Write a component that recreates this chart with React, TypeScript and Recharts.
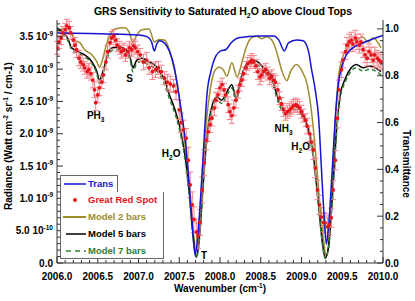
import React from 'react';
import { ComposedChart, Line, Scatter, ErrorBar, XAxis, YAxis, ReferenceDot } from 'recharts';

// transmittance (right axis) : [wavenumber, T]
const transmittance: [number, number][] = [
  [2006.0, 0.983], [2006.4, 0.98], [2006.8, 0.977], [2007.01, 0.974], [2007.11, 0.966],
  [2007.16, 0.945], [2007.195, 0.906], [2007.22, 0.932], [2007.256, 0.949], [2007.317, 0.94],
  [2007.378, 0.906], [2007.44, 0.834], [2007.476, 0.762], [2007.524, 0.651], [2007.573, 0.528],
  [2007.622, 0.336], [2007.659, 0.166], [2007.695, 0.034], [2007.73, 0.123], [2007.768, 0.315],
  [2007.805, 0.528], [2007.84, 0.719], [2007.89, 0.821], [2007.95, 0.885], [2008.01, 0.906],
  [2008.07, 0.911], [2008.135, 0.94], [2008.23, 0.962], [2008.475, 0.97], [2008.66, 0.97],
  [2008.72, 0.953], [2008.79, 0.906], [2008.84, 0.94], [2008.94, 0.953], [2009.02, 0.949],
  [2009.085, 0.906], [2009.12, 0.834], [2009.17, 0.736], [2009.21, 0.621], [2009.245, 0.4],
  [2009.28, 0.187], [2009.305, 0.081], [2009.33, 0.145], [2009.37, 0.357], [2009.415, 0.621],
  [2009.45, 0.762], [2009.49, 0.834], [2009.55, 0.889], [2009.63, 0.919], [2009.755, 0.94],
  [2009.915, 0.962], [2010.0, 0.972],
];

// radiance in units of 1e-9 W cm-2 sr-1 / cm-1
const model2: [number, number][] = [
  [2006.0, 3.59], [2006.06, 3.62], [2006.13, 3.63], [2006.18, 3.55], [2006.22, 3.45],
  [2006.28, 3.41], [2006.34, 3.3], [2006.43, 3.22], [2006.49, 3.11], [2006.52, 3.03],
  [2006.56, 3.15], [2006.6, 3.35], [2006.65, 3.53], [2006.71, 3.62], [2006.83, 3.64],
  [2006.89, 3.56], [2006.93, 3.41], [2006.98, 3.53], [2007.04, 3.61], [2007.13, 3.62],
  [2007.195, 3.42], [2007.256, 3.46], [2007.317, 3.45], [2007.378, 3.3], [2007.415, 3.13],
  [2007.476, 2.76], [2007.524, 2.35], [2007.573, 1.83], [2007.622, 1.21], [2007.67, 0.51],
  [2007.71, 0.12], [2007.755, 0.59], [2007.79, 1.44], [2007.83, 2.14], [2007.88, 2.68],
  [2007.93, 2.96], [2007.99, 3.03], [2008.04, 2.99], [2008.085, 2.89], [2008.145, 3.1],
  [2008.21, 2.88], [2008.27, 3.11], [2008.32, 3.33], [2008.38, 3.48], [2008.45, 3.51],
  [2008.51, 3.47], [2008.575, 3.5], [2008.635, 3.45], [2008.695, 3.27], [2008.755, 2.99],
  [2008.82, 2.82], [2008.865, 2.96], [2008.94, 3.07], [2009.01, 2.96], [2009.07, 2.76],
  [2009.12, 2.37], [2009.17, 1.75], [2009.22, 0.975], [2009.27, 0.36], [2009.305, 0.09],
  [2009.34, 0.43], [2009.38, 1.28], [2009.415, 2.21], [2009.45, 2.83], [2009.5, 3.17],
  [2009.55, 3.3], [2009.61, 3.42], [2009.67, 3.45], [2009.745, 3.5], [2009.82, 3.42],
  [2009.88, 3.48], [2009.975, 3.33],
];

const modelWn = [
  2006.0, 2006.06, 2006.13, 2006.18, 2006.26, 2006.34, 2006.43, 2006.49, 2006.52, 2006.57,
  2006.62, 2006.68, 2006.77, 2006.85, 2006.9, 2006.93, 2006.98, 2007.04, 2007.13, 2007.195,
  2007.26, 2007.32, 2007.38, 2007.44, 2007.5, 2007.56, 2007.62, 2007.67, 2007.71, 2007.745,
  2007.78, 2007.83, 2007.89, 2007.96, 2008.02, 2008.085, 2008.145, 2008.2, 2008.245, 2008.29,
  2008.35, 2008.415, 2008.475, 2008.535, 2008.6, 2008.66, 2008.72, 2008.78, 2008.84, 2008.9,
  2008.96, 2009.02, 2009.085, 2009.145, 2009.21, 2009.26, 2009.29, 2009.33, 2009.38, 2009.43,
  2009.475, 2009.54, 2009.61, 2009.67, 2009.755, 2009.84, 2009.91, 2009.975,
];

const model5 = [
  3.64, 3.58, 3.48, 3.33, 3.27, 3.22, 3.11, 2.96, 2.83, 2.99,
  3.22, 3.33, 3.34, 3.3, 3.17, 3.02, 3.14, 3.17, 3.11, 3.07,
  2.96, 2.83, 2.6, 2.4, 2.14, 1.75, 1.13, 0.43, 0.09, 0.36,
  0.975, 1.83, 2.37, 2.57, 2.52, 2.65, 2.76, 2.55, 2.8, 2.99,
  3.11, 3.14, 3.1, 3.02, 2.96, 2.76, 2.52, 2.37, 2.34, 2.43,
  2.4, 2.29, 2.06, 1.67, 0.9, 0.28, 0.08, 0.23, 1.05, 2.06,
  2.6, 2.86, 3.02, 3.07, 3.02, 3.05, 3.02, 2.96,
];

const model7 = [
  3.62, 3.55, 3.45, 3.3, 3.24, 3.19, 3.08, 2.92, 2.78, 2.95,
  3.18, 3.29, 3.3, 3.26, 3.12, 2.96, 3.09, 3.12, 3.06, 3.02,
  2.91, 2.77, 2.54, 2.34, 2.08, 1.69, 1.08, 0.4, 0.08, 0.33,
  0.93, 1.77, 2.31, 2.52, 2.47, 2.6, 2.71, 2.5, 2.75, 2.94,
  3.06, 3.09, 3.05, 2.97, 2.91, 2.71, 2.47, 2.32, 2.29, 2.38,
  2.35, 2.24, 2.01, 1.62, 0.86, 0.26, 0.07, 0.21, 1.0, 2.0,
  2.55, 2.81, 2.97, 3.02, 2.97, 3.0, 2.97, 2.91,
];

// Great Red Spot spectrum: [wavenumber, radiance, error]
const grs: [number, number, number][] = [
  [2006.0, 3.33, 0.1], [2006.025, 3.42, 0.1], [2006.05, 3.48, 0.1], [2006.07, 3.56, 0.1], [2006.1, 3.61, 0.1],
  [2006.12, 3.67, 0.1], [2006.15, 3.64, 0.1], [2006.17, 3.56, 0.1], [2006.2, 3.45, 0.1], [2006.22, 3.37, 0.12],
  [2006.24, 3.3, 0.12], [2006.27, 3.17, 0.12], [2006.29, 3.11, 0.1], [2006.32, 3.07, 0.1], [2006.34, 3.02, 0.1],
  [2006.37, 2.96, 0.1], [2006.39, 2.99, 0.1], [2006.415, 2.93, 0.1], [2006.44, 2.83, 0.12], [2006.46, 2.68, 0.12],
  [2006.475, 2.48, 0.12], [2006.5, 2.6, 0.12], [2006.52, 2.71, 0.12], [2006.55, 2.8, 0.1], [2006.57, 2.91, 0.12],
  [2006.6, 3.11, 0.12], [2006.62, 3.27, 0.1], [2006.65, 3.41, 0.1], [2006.67, 3.48, 0.1], [2006.695, 3.51, 0.1],
  [2006.72, 3.45, 0.1], [2006.74, 3.37, 0.1], [2006.77, 3.33, 0.1], [2006.79, 3.27, 0.1], [2006.82, 3.3, 0.1],
  [2006.84, 3.22, 0.1], [2006.87, 3.27, 0.1], [2006.89, 3.33, 0.1], [2006.915, 3.3, 0.1], [2006.94, 3.36, 0.1],
  [2006.96, 3.33, 0.1], [2006.99, 3.27, 0.1], [2007.02, 3.22, 0.1], [2007.06, 3.11, 0.12], [2007.1, 3.14, 0.12],
  [2007.13, 3.02, 0.1], [2007.17, 2.96, 0.12], [2007.21, 2.99, 0.12], [2007.245, 3.02, 0.1], [2007.28, 2.96, 0.1],
  [2007.32, 2.86, 0.1], [2007.355, 2.8, 0.12], [2007.39, 2.77, 0.12], [2007.43, 2.74, 0.1], [2007.46, 2.65, 0.12],
  [2007.5, 2.37, 0.15], [2007.52, 2.17, 0.15], [2007.55, 2.06, 0.15], [2007.585, 1.93, 0.15], [2007.61, 1.59, 0.2],
  [2007.635, 1.21, 0.2], [2007.66, 0.9, 0.2], [2007.68, 0.67, 0.2], [2007.71, 0.48, 0.2], [2007.73, 0.42, 0.2],
  [2007.755, 0.63, 0.2], [2007.78, 1.13, 0.2], [2007.805, 1.55, 0.2], [2007.83, 1.9, 0.15], [2007.855, 2.03, 0.15],
  [2007.88, 2.14, 0.12], [2007.9, 2.24, 0.12], [2007.93, 2.4, 0.12], [2007.95, 2.52, 0.12], [2007.975, 2.6, 0.1],
  [2008.0, 2.71, 0.1], [2008.025, 2.76, 0.1], [2008.05, 2.68, 0.1], [2008.07, 2.6, 0.1], [2008.1, 2.45, 0.12],
  [2008.12, 2.34, 0.12], [2008.145, 2.28, 0.12], [2008.17, 2.4, 0.12], [2008.195, 2.52, 0.12], [2008.22, 2.65, 0.1],
  [2008.245, 2.76, 0.1], [2008.27, 2.83, 0.1], [2008.29, 2.93, 0.1], [2008.32, 3.02, 0.1], [2008.34, 3.08, 0.1],
  [2008.37, 3.11, 0.1], [2008.39, 3.14, 0.1], [2008.415, 3.11, 0.1], [2008.44, 3.05, 0.1], [2008.465, 2.96, 0.12],
  [2008.49, 2.88, 0.12], [2008.51, 2.91, 0.1], [2008.535, 2.96, 0.1], [2008.56, 2.99, 0.1], [2008.585, 2.93, 0.1],
  [2008.61, 2.86, 0.1], [2008.635, 2.89, 0.1], [2008.66, 2.83, 0.1], [2008.68, 2.8, 0.1], [2008.71, 2.68, 0.1],
  [2008.73, 2.55, 0.1], [2008.755, 2.46, 0.1], [2008.78, 2.37, 0.1], [2008.805, 2.31, 0.1], [2008.83, 2.34, 0.1],
  [2008.855, 2.37, 0.1], [2008.88, 2.4, 0.1], [2008.9, 2.43, 0.1], [2008.93, 2.45, 0.1], [2008.95, 2.43, 0.1],
  [2008.975, 2.4, 0.1], [2009.0, 2.34, 0.1], [2009.02, 2.28, 0.1], [2009.05, 2.21, 0.1], [2009.07, 2.12, 0.12],
  [2009.1, 2.0, 0.12], [2009.12, 1.87, 0.12], [2009.145, 1.75, 0.15], [2009.17, 1.47, 0.15], [2009.195, 1.13, 0.15],
  [2009.22, 0.9, 0.15], [2009.245, 0.71, 0.15], [2009.27, 0.63, 0.15], [2009.29, 0.62, 0.15], [2009.32, 0.56, 0.15],
  [2009.34, 0.59, 0.15], [2009.365, 0.7, 0.15], [2009.39, 1.13, 0.15], [2009.415, 1.59, 0.15], [2009.44, 2.24, 0.15],
  [2009.46, 2.68, 0.15], [2009.49, 2.99, 0.12], [2009.51, 3.14, 0.12], [2009.54, 3.27, 0.12], [2009.56, 3.37, 0.12],
  [2009.585, 3.42, 0.12], [2009.61, 3.45, 0.12], [2009.63, 3.39, 0.12], [2009.66, 3.48, 0.12], [2009.68, 3.42, 0.12],
  [2009.71, 3.37, 0.12], [2009.73, 3.42, 0.12], [2009.755, 3.3, 0.12], [2009.78, 3.22, 0.12], [2009.805, 3.17, 0.12],
  [2009.83, 3.27, 0.12], [2009.855, 3.22, 0.12], [2009.88, 3.14, 0.12], [2009.9, 3.22, 0.12], [2009.93, 3.17, 0.12],
  [2009.95, 3.14, 0.12], [2009.975, 3.11, 0.12],
];

// line annotations: [wavenumber, radiance, main, subscript, tail]
const annotations: [number, number, string, string, string][] = [
  [2006.475, 2.29, 'PH', '3', ''],
  [2006.89, 2.85, 'S', '', ''],
  [2007.4, 1.69, 'H', '2', 'O'],
  [2007.805, 0.11, 'T', '', ''],
  [2008.78, 2.09, 'NH', '3', ''],
  [2008.99, 1.8, 'H', '2', 'O'],
];

const xMajorLabels = ['2006.0', '2006.5', '2007.0', '2007.5', '2008.0', '2008.5', '2009.0', '2009.5', '2010.0'];
const radMajorLabels: [string, string][] = [
  ['0.0', ''], ['5.0 10', '-10'], ['1.0 10', '-9'], ['1.5 10', '-9'], ['2.0 10', '-9'],
  ['2.5 10', '-9'], ['3.0 10', '-9'], ['3.5 10', '-9'],
];
const transMajorLabels = ['0.0', '0.2', '0.4', '0.6', '0.8', '1.0'];

const xTicks = Array.from({ length: 41 }, (_, i) => +(2006 + i * 0.1).toFixed(1));
const radTicks = Array.from({ length: 38 }, (_, i) => +(i * 0.1).toFixed(1));
const transTicks = Array.from({ length: 21 }, (_, i) => +(i * 0.05).toFixed(2));

const FONT = '"Liberation Sans", Arial, Helvetica, sans-serif';
const FRAME = '#333';
const BLUE = '#1414d2';
const OLIVE = '#9e8c2e';
const GREEN = '#2f7d32';
const RED = '#e8141c';

const near = (v: number, step: number) => Math.abs(v / step - Math.round(v / step)) < 1e-6;

const transPts = transmittance.map(([x, y]) => ({ x, y }));
const model2Pts = model2.map(([x, y]) => ({ x, y }));
const model5Pts = modelWn.map((x, i) => ({ x, y: model5[i] }));
const model7Pts = modelWn.map((x, i) => ({ x, y: model7[i] }));
const grsPts = grs.map(([x, y, err]) => ({ x, y, err }));

const BottomTick = (props: any) => {
  const { x, y, payload } = props;
  const major = near(payload.value - 2006, 0.5);
  const idx = Math.round((payload.value - 2006) / 0.5);
  return (
    <g>
      <line x1={x} x2={x} y1={y} y2={y - (major ? 6 : 3)} stroke={FRAME} />
      {major && (
        <text x={x} y={y + 16.5} textAnchor="middle" fontSize={10} fontWeight="bold" fontFamily={FONT} fill="#000">
          {xMajorLabels[idx]}
        </text>
      )}
    </g>
  );
};

const TopTick = (props: any) => {
  const { x, y, payload } = props;
  const major = near(payload.value - 2006, 0.5);
  return <line x1={x} x2={x} y1={y} y2={y + (major ? 6 : 3)} stroke={FRAME} />;
};

const LeftTick = (props: any) => {
  const { x, y, payload } = props;
  const major = near(payload.value, 0.5);
  const lab = radMajorLabels[Math.round(payload.value / 0.5)];
  return (
    <g>
      <line x1={x} x2={x + (major ? 6 : 3)} y1={y} y2={y} stroke={FRAME} />
      {major && lab && (
        <text x={x - 4} y={y} dy="0.36em" textAnchor="end" fontSize={10} fontWeight="bold" fontFamily={FONT} fill="#000">
          {lab[0]}
          {lab[1] && (
            <tspan fontSize={6.5} dy={-4.5}>
              {lab[1]}
            </tspan>
          )}
        </text>
      )}
    </g>
  );
};

const RightTick = (props: any) => {
  const { x, y, payload } = props;
  const major = near(payload.value, 0.2);
  return (
    <g>
      <line x1={x} x2={x - (major ? 6 : 3)} y1={y} y2={y} stroke={FRAME} />
      {major && (
        <text x={x + 2} y={y} dy="0.36em" textAnchor="start" fontSize={10} fontWeight="bold" fontFamily={FONT} fill="#000">
          {transMajorLabels[Math.round(payload.value / 0.2)]}
        </text>
      )}
    </g>
  );
};

const AnnotLabel = (props: any) => {
  const { viewBox, main, sub, tail } = props;
  const cx = viewBox.x + (viewBox.width || 0) / 2;
  const cy = viewBox.y + (viewBox.height || 0) / 2;
  return (
    <text x={cx} y={cy} dy="0.36em" textAnchor="middle" fontSize={10} fontWeight="bold" fontFamily={FONT} fill="#000">
      {main}
      {sub && (
        <tspan fontSize={6.5} dy={3}>
          {sub}
        </tspan>
      )}
      {tail && <tspan dy={-3}>{tail}</tspan>}
    </text>
  );
};

const GrsDot = (props: any) => <circle cx={props.cx} cy={props.cy} r={1.9} fill={RED} />;

const legendRow = (y: number, sample: React.ReactNode, text: string, color: string) => (
  <div style={{ position: 'absolute', left: 0, top: y, height: 14, display: 'flex', alignItems: 'center' }}>
    <svg width={27} height={14} style={{ display: 'block' }}>
      {sample}
    </svg>
    <span style={{ color, fontSize: 9.5, fontWeight: 'bold', lineHeight: '14px', whiteSpace: 'nowrap' }}>{text}</span>
  </div>
);

export default function App() {
  return (
    <div style={{ position: 'absolute', left: 0, top: 0, width: 415, height: 301, background: '#fff', fontFamily: FONT }}>
      <ComposedChart width={415} height={301} margin={{ top: 20, right: 0, bottom: 0, left: 0 }}>
        <XAxis
          xAxisId="x"
          type="number"
          dataKey="x"
          domain={[2006, 2010]}
          ticks={xTicks}
          interval={0}
          tickSize={0}
          tickMargin={0}
          tickLine={false}
          height={38}
          axisLine={{ stroke: FRAME }}
          tick={<BottomTick />}
          allowDataOverflow
        />
        <XAxis
          xAxisId="top"
          orientation="top"
          type="number"
          dataKey="x"
          domain={[2006, 2010]}
          ticks={xTicks}
          interval={0}
          tickSize={0}
          tickMargin={0}
          tickLine={false}
          height={0}
          axisLine={{ stroke: FRAME }}
          tick={<TopTick />}
          allowDataOverflow
        />
        <YAxis
          yAxisId="rad"
          type="number"
          dataKey="y"
          domain={[0, 3.76]}
          ticks={radTicks}
          interval={0}
          tickSize={0}
          tickMargin={0}
          tickLine={false}
          width={57}
          axisLine={{ stroke: FRAME }}
          tick={<LeftTick />}
          allowDataOverflow
        />
        <YAxis
          yAxisId="tr"
          orientation="right"
          type="number"
          dataKey="y"
          domain={[0, 1.038]}
          ticks={transTicks}
          interval={0}
          tickSize={0}
          tickMargin={0}
          tickLine={false}
          width={32}
          axisLine={{ stroke: FRAME }}
          tick={<RightTick />}
          allowDataOverflow
        />
        <Line xAxisId="x" yAxisId="rad" data={model2Pts} dataKey="y" type="monotone" stroke={OLIVE} strokeWidth={1.5} dot={false} isAnimationActive={false} />
        <Line xAxisId="x" yAxisId="rad" data={model5Pts} dataKey="y" type="monotone" stroke="#000" strokeWidth={1.5} dot={false} isAnimationActive={false} />
        <Line xAxisId="x" yAxisId="rad" data={model7Pts} dataKey="y" type="monotone" stroke={GREEN} strokeWidth={1.5} strokeDasharray="4 3" dot={false} isAnimationActive={false} />
        <Scatter xAxisId="x" yAxisId="rad" data={grsPts} dataKey="y" shape={<GrsDot />} isAnimationActive={false}>
          <ErrorBar dataKey="err" direction="y" width={3} stroke="#f2828a" strokeWidth={1} />
        </Scatter>
        <Line xAxisId="x" yAxisId="tr" data={transPts} dataKey="y" type="monotone" stroke={BLUE} strokeWidth={1.5} dot={false} isAnimationActive={false} />
        {annotations.map(([x, y, main, sub, tail], i) => (
          <ReferenceDot
            key={i}
            xAxisId="x"
            yAxisId="rad"
            x={x}
            y={y}
            r={0}
            stroke="none"
            fill="none"
            ifOverflow="visible"
            label={<AnnotLabel main={main} sub={sub} tail={tail} />}
          />
        ))}
      </ComposedChart>

      <svg width={415} height={301} style={{ position: 'absolute', left: 0, top: 0, pointerEvents: 'none' }}>
        <text x={223} y={15} textAnchor="middle" fontSize={10.5} fontWeight="bold" fontFamily={FONT} fill="#000">
          GRS Sensitivity to Saturated H<tspan fontSize={7} dy={3}>2</tspan>
          <tspan dy={-3}>O above Cloud Tops</tspan>
        </text>
        <text transform="translate(12,136) rotate(-90)" textAnchor="middle" fontSize={10} fontWeight="bold" fontFamily={FONT} fill="#000">
          Radiance (Watt cm<tspan fontSize={6.5} dy={-4}>-2</tspan>
          <tspan dy={4}> sr</tspan>
          <tspan fontSize={6.5} dy={-4}>-1</tspan>
          <tspan dy={4}> / cm-1)</tspan>
        </text>
        <text transform="translate(403,164) rotate(90)" textAnchor="middle" fontSize={10} fontWeight="bold" fontFamily={FONT} fill="#000">
          Transmittance
        </text>
        <text x={220} y={292} textAnchor="middle" fontSize={10} fontWeight="bold" fontFamily={FONT} fill="#000">
          Wavenumber (cm<tspan fontSize={6.5} dy={-4}>-1</tspan>
          <tspan dy={4}>)</tspan>
        </text>
      </svg>

      <div style={{ position: 'absolute', left: 60, top: 175, width: 56, height: 16, border: '1px solid #666', background: '#fff' }}>
        {legendRow(1, <line x1={3} x2={25} y1={7} y2={7} stroke={BLUE} strokeWidth={1.5} />, 'Trans', BLUE)}
      </div>
      <div style={{ position: 'absolute', left: 60, top: 192, width: 102, height: 66, border: '1px solid #666', borderTop: 'none', background: '#fff' }}>
        {legendRow(1, <circle cx={14} cy={7} r={2} fill={RED} />, 'Great Red Spot', RED)}
        {legendRow(18, <line x1={2} x2={25} y1={7} y2={7} stroke={OLIVE} strokeWidth={2} />, 'Model 2 bars', OLIVE)}
        {legendRow(35, <line x1={5} x2={25} y1={7} y2={7} stroke="#000" strokeWidth={1.5} />, 'Model 5 bars', '#000')}
        {legendRow(52, <line x1={5} x2={25} y1={7} y2={7} stroke={GREEN} strokeWidth={1.5} strokeDasharray="5 4" />, 'Model 7 bars', GREEN)}
      </div>
    </div>
  );
}
